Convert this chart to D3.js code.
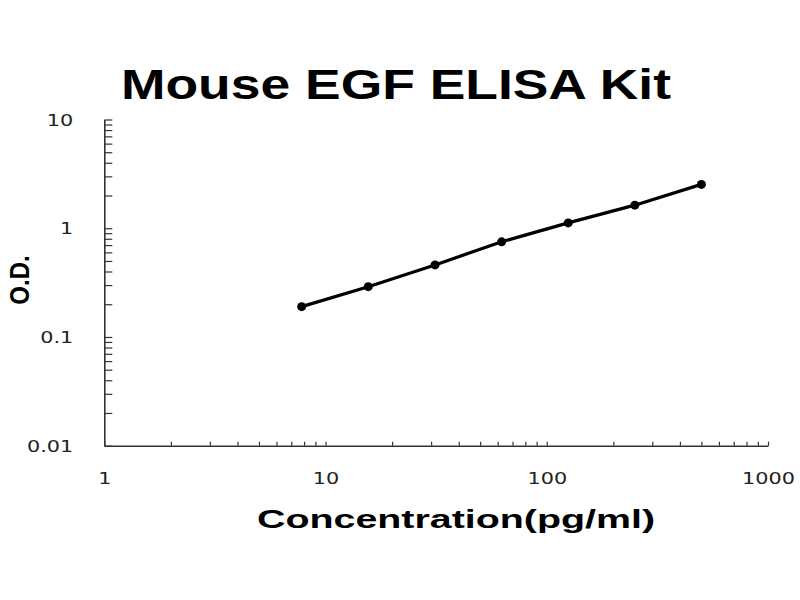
<!DOCTYPE html>
<html>
<head>
<meta charset="utf-8">
<script src="https://cdn.jsdelivr.net/npm/d3@7"></script>
<style>
  html, body { margin: 0; padding: 0; background: #fff; }
  svg { display: block; font-family: "Liberation Sans", Arial, sans-serif; }
</style>
</head>
<body>
<div id="chart"></div>
<script>
// standard curve data
const concentrations = [7.8, 15.6, 31.25, 62.5, 125, 250, 500];
const odValues = [0.19, 0.29, 0.46, 0.75, 1.12, 1.63, 2.53];
const xTickValues = [1, 10, 100, 1000];
const yTickValues = [0.01, 0.1, 1, 10];
const yTickLabels = ['0.01', '0.1', '1', '10'];

const width = 800, height = 600;
const margin = { top: 119.5, right: 32, bottom: 154.3, left: 104.3 };
const plotW = width - margin.left - margin.right;
const plotH = height - margin.top - margin.bottom;
const stretch = 1.3; // labels in the picture are wide

const svg = d3.select('#chart').append('svg')
    .attr('width', width)
    .attr('height', height);

const g = svg.append('g')
    .attr('transform', `translate(${margin.left},${margin.top})`);

const x = d3.scaleLog().domain([1, 1000]).range([0, plotW]);
const y = d3.scaleLog().domain([0.01, 10]).range([plotH, 0]);

// minor ticks 2..9 per decade
const minorX = d3.range(0, 3).flatMap(e => d3.range(2, 10).map(m => m * Math.pow(10, e)));
const minorY = d3.range(-2, 1).flatMap(e => d3.range(2, 10).map(m => m * Math.pow(10, e)));

// X axis
const xAxis = g.append('g')
    .attr('transform', `translate(0,${plotH})`)
    .call(d3.axisBottom(x).tickValues(xTickValues.concat(minorX)).tickSizeInner(-4).tickSizeOuter(0)
        .tickFormat(d => xTickValues.includes(d) ? d3.format('d')(d) : ''));
xAxis.select('.domain').attr('stroke', '#333').attr('stroke-width', 1.6);
xAxis.selectAll('.tick line').attr('stroke', '#333').attr('stroke-width', 1.2);
xAxis.selectAll('.tick text')
    .attr('y', 33).attr('dy', '0.35em')
    .attr('transform', `scale(${stretch},1)`)
    .style('font-family', '"DejaVu Sans", sans-serif')
    .style('font-size', '16px')
    .style('fill', '#222');

// Y axis
const yAxis = g.append('g')
    .call(d3.axisLeft(y).tickValues(yTickValues.concat(minorY)).tickSizeInner(-8).tickSizeOuter(0)
        .tickFormat(d => {
            const i = yTickValues.indexOf(d);
            return i >= 0 ? yTickLabels[i] : '';
        }));
yAxis.select('.domain').attr('stroke', '#333').attr('stroke-width', 1.6);
yAxis.selectAll('.tick line').attr('stroke', '#333').attr('stroke-width', 1.2);
yAxis.selectAll('.tick text')
    .attr('x', -31 / stretch).attr('dy', '0.35em')
    .attr('transform', `scale(${stretch},1)`)
    .style('font-family', '"DejaVu Sans", sans-serif')
    .style('font-size', '16px')
    .style('fill', '#222');

// Curve
const pts = concentrations.map((c, i) => ({ c: c, od: odValues[i] }));
const line = d3.line().x(d => x(d.c)).y(d => y(d.od));

g.append('path')
    .datum(pts)
    .attr('fill', 'none')
    .attr('stroke', '#000')
    .attr('stroke-width', 3.2)
    .attr('d', line);

g.selectAll('.pt')
    .data(pts)
    .enter()
    .append('circle')
    .attr('class', 'pt')
    .attr('cx', d => x(d.c))
    .attr('cy', d => y(d.od))
    .attr('r', 4.5)
    .attr('fill', '#000');

// Title
svg.append('text')
    .attr('x', 121).attr('y', 99)
    .attr('textLength', 550).attr('lengthAdjust', 'spacingAndGlyphs')
    .style('font-size', '43px').style('font-weight', 'bold')
    .style('fill', '#000')
    .text('Mouse EGF ELISA Kit');

// X label
svg.append('text')
    .attr('x', 257).attr('y', 528)
    .attr('textLength', 398).attr('lengthAdjust', 'spacingAndGlyphs')
    .style('font-size', '25px').style('font-weight', 'bold')
    .style('fill', '#000')
    .text('Concentration(pg/ml)');

// Y label
svg.append('text')
    .attr('transform', `translate(29,280) scale(1.15,1) rotate(-90)`)
    .attr('text-anchor', 'middle')
    .style('font-size', '24px').style('font-weight', 'bold')
    .style('fill', '#000')
    .text('O.D.');
</script>
</body>
</html>
